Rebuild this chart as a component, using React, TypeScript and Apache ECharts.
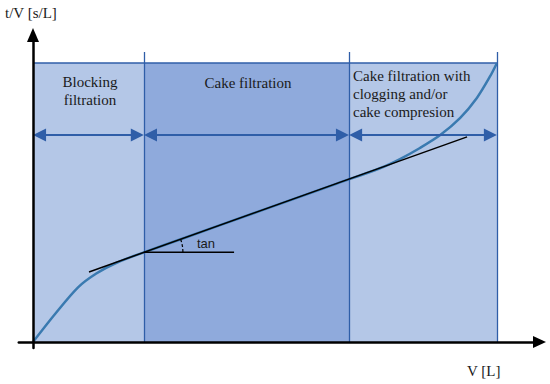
import React, { useEffect, useRef } from "react";
import * as echarts from "echarts";

// Region boundaries on the V axis (data units)
const regionBounds = [0, 21.9, 62.4, 91.6];
const regionTop = 90.9;
const boundaryTop = 94.5;
const arrowLevel = 67.4;
const regionColors = ["#b4c7e7", "#8faadc", "#b4c7e7"];

// Filtration curve t/V vs V
const curveV = [0, 4.4, 8.9, 12.5, 16.5, 21.9, 30, 45, 60, 68.5, 72.46, 76.4, 80.4, 84.3, 87.6, 90.2, 91.6];
const curveTV = [0, 9.2, 17.8, 22.3, 25.8, 29.2, 33.95, 42.8, 51.6, 56.6, 59.6, 63.2, 67.4, 72.9, 79.4, 86.4, 90.9];

// Tangent line (cake filtration slope)
const tangentV = [11.06, 85.7];
const tangentTV = [22.8, 66.8];
const horizRefV = [21.9, 39.7];
const horizRefTV = 29.2;

const regionLabels = ["Blocking\nfiltration", "Cake filtration", "Cake filtration with\nclogging and/or\ncake compresion"];

const LINE_BLUE = "#2f5ea8";
const CURVE_BLUE = "#3a7ab0";
const TEXT = "#1a1a1a";
const SERIF = "Liberation Serif";

export default function App() {
  const ref = useRef<HTMLDivElement>(null);
  useEffect(() => {
    if (!ref.current) return;
    const chart = echarts.init(ref.current, undefined, { renderer: "svg" });
    const xMin = -2.8, xMax = 100, yMin = -2, yMax = 100;
    const inset = 1.3;

    const areas = regionColors.map((c, i) => [
      { xAxis: regionBounds[i], yAxis: 0, itemStyle: { color: c } },
      { xAxis: regionBounds[i + 1], yAxis: regionTop },
    ]);
    const arrows = regionColors.map((_, i) => [
      { coord: [regionBounds[i] + inset, arrowLevel] },
      { coord: [regionBounds[i + 1] - inset, arrowLevel] },
    ]);
    const verticals = regionBounds.slice(1).map((b) => [
      { coord: [b, 0] },
      { coord: [b, boundaryTop] },
    ]);

    const txt = (x: number, y: number, text: string, family: string, size: number, align: string, lineHeight?: number) => ({
      type: "text", x, y, z: 100,
      style: {
        text, fontFamily: family, fontSize: size, fill: TEXT,
        lineHeight: lineHeight ?? Math.round(size * 1.2),
        align, verticalAlign: "middle", textAlign: align, textVerticalAlign: "middle",
      },
    });

    const option: any = {
      animation: false,
      grid: { left: 18.8, right: 10.5, top: 35, bottom: 35.9 },
      xAxis: {
        type: "value", min: xMin, max: xMax, z: 10,
        axisLine: { onZero: true, symbol: ["none", "triangle"], symbolSize: [12, 13], lineStyle: { color: "#000", width: 2.5 } },
        axisTick: { show: false }, axisLabel: { show: false }, splitLine: { show: false },
      },
      yAxis: {
        type: "value", min: yMin, max: yMax, z: 10,
        axisLine: { onZero: true, symbol: ["none", "triangle"], symbolSize: [12, 14], lineStyle: { color: "#000", width: 2.5 } },
        axisTick: { show: false }, axisLabel: { show: false }, splitLine: { show: false },
      },
      series: [
        {
          type: "line", data: [], z: 1,
          markArea: { silent: true, data: areas },
        },
        {
          type: "line", z: 2, symbol: "none",
          data: [[regionBounds[0], regionTop], [regionBounds[3], regionTop]],
          lineStyle: { color: LINE_BLUE, width: 1.5 },
        },
        {
          type: "line", data: [], z: 2,
          markLine: {
            silent: true, symbol: ["none", "none"], label: { show: false },
            lineStyle: { color: LINE_BLUE, width: 1.3, type: "solid" },
            data: verticals,
          },
        },
        {
          type: "line", data: [], z: 3,
          markLine: {
            silent: true, symbol: ["triangle", "triangle"], symbolSize: [13, 13], label: { show: false },
            lineStyle: { color: LINE_BLUE, width: 2.2, type: "solid" },
            data: arrows,
          },
        },
        {
          type: "line", z: 4, symbol: "none", smooth: 0.3,
          data: curveV.map((v, i) => [v, curveTV[i]]),
          lineStyle: { color: CURVE_BLUE, width: 2.5 },
        },
        {
          type: "line", z: 5, symbol: "none",
          data: tangentV.map((v, i) => [v, tangentTV[i]]),
          lineStyle: { color: "#000", width: 1.5 },
        },
        {
          type: "line", z: 5, symbol: "none",
          data: horizRefV.map((v) => [v, horizRefTV]),
          lineStyle: { color: "#000", width: 1.5 },
        },
        {
          type: "custom", z: 6, coordinateSystem: "cartesian2d",
          data: [[horizRefV[0], horizRefTV]],
          renderItem: (params: any, api: any) => {
            const c = api.coord([horizRefV[0], horizRefTV]);
            const p = api.coord([tangentV[1], tangentTV[1]]);
            const ang = Math.atan2(p[1] - c[1], p[0] - c[0]);
            return {
              type: "arc",
              shape: { cx: c[0], cy: c[1], r: 39, startAngle: ang, endAngle: 0, clockwise: true },
              style: { stroke: "#000", fill: "none", lineWidth: 1.2, lineDash: [3, 2] },
            };
          },
        },
      ],
      graphic: {
        elements: [
          txt(5, 13, "t/V [s/L]", SERIF, 15, "left"),
          txt(467, 371, "V [L]", SERIF, 15, "left"),
          txt(90, 90.5, regionLabels[0], SERIF, 15, "center", 18),
          txt(248, 83, regionLabels[1], SERIF, 15, "center"),
          txt(353, 94, regionLabels[2], SERIF, 15, "left", 18),
          txt(197, 243, "tan", "Liberation Sans", 13, "left"),
        ],
      },
    };
    chart.setOption(option);
    return () => chart.dispose();
  }, []);
  return <div ref={ref} style={{ width: 550, height: 384, position: "absolute", left: 0, top: 0 }} />;
}
